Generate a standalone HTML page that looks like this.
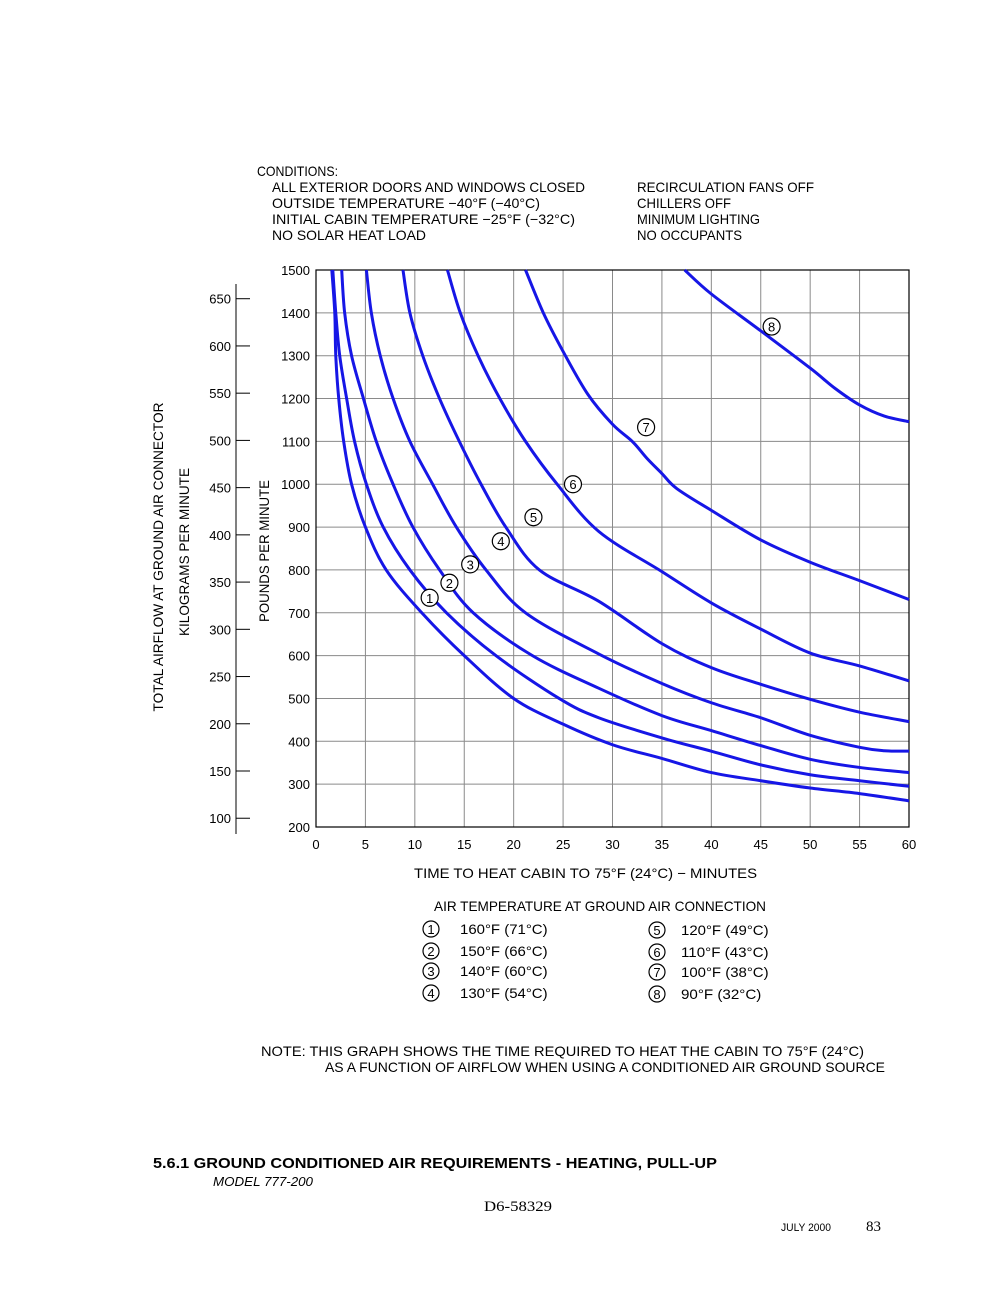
<!DOCTYPE html>
<html><head><meta charset="utf-8"><style>
html,body{margin:0;padding:0;background:#fff}
svg{display:block}
text{font-family:"Liberation Sans",sans-serif;fill:#000}
</style></head><body>
<svg id="page" width="1000" height="1294" viewBox="0 0 1000 1294" xmlns="http://www.w3.org/2000/svg">
<g font-size="14">
<text x="257" y="176" textLength="81" lengthAdjust="spacingAndGlyphs">CONDITIONS:</text>
<text x="272" y="192" textLength="313" lengthAdjust="spacingAndGlyphs">ALL EXTERIOR DOORS AND WINDOWS CLOSED</text>
<text x="272" y="208" textLength="268" lengthAdjust="spacingAndGlyphs">OUTSIDE TEMPERATURE −40°F (−40°C)</text>
<text x="272" y="224" textLength="303" lengthAdjust="spacingAndGlyphs">INITIAL CABIN TEMPERATURE −25°F (−32°C)</text>
<text x="272" y="240" textLength="154" lengthAdjust="spacingAndGlyphs">NO SOLAR HEAT LOAD</text>
<text x="637" y="192" textLength="177" lengthAdjust="spacingAndGlyphs">RECIRCULATION FANS OFF</text>
<text x="637" y="208" textLength="94" lengthAdjust="spacingAndGlyphs">CHILLERS OFF</text>
<text x="637" y="224" textLength="123" lengthAdjust="spacingAndGlyphs">MINIMUM LIGHTING</text>
<text x="637" y="240" textLength="105" lengthAdjust="spacingAndGlyphs">NO OCCUPANTS</text>
</g>
<g id="grid"></g>
<g id="axes"></g>
<g id="curves"></g>
<g id="labels"></g>
<text font-size="14" transform="translate(163,557) rotate(-90)" text-anchor="middle" textLength="309" lengthAdjust="spacingAndGlyphs">TOTAL AIRFLOW AT GROUND AIR CONNECTOR</text>
<text font-size="14" transform="translate(189,552) rotate(-90)" text-anchor="middle" textLength="168" lengthAdjust="spacingAndGlyphs">KILOGRAMS PER MINUTE</text>
<text font-size="14" transform="translate(269,551) rotate(-90)" text-anchor="middle" textLength="142" lengthAdjust="spacingAndGlyphs">POUNDS PER MINUTE</text>
<text font-size="14" x="414" y="878" textLength="343" lengthAdjust="spacingAndGlyphs">TIME TO HEAT CABIN TO 75°F (24°C) − MINUTES</text>
<g font-size="14">
<text x="434" y="911" textLength="332" lengthAdjust="spacingAndGlyphs">AIR TEMPERATURE AT GROUND AIR CONNECTION</text>
<g id="legend-entries"></g>
</g>
<g font-size="14">
<text x="261" y="1056" textLength="603" lengthAdjust="spacingAndGlyphs">NOTE:   THIS GRAPH SHOWS THE TIME REQUIRED TO HEAT THE CABIN TO 75°F (24°C)</text>
<text x="325" y="1072" textLength="560" lengthAdjust="spacingAndGlyphs">AS A FUNCTION OF AIRFLOW WHEN USING A CONDITIONED AIR GROUND SOURCE</text>
</g>
<text x="153" y="1168" font-size="15" font-weight="bold" textLength="564" lengthAdjust="spacingAndGlyphs">5.6.1    GROUND CONDITIONED AIR REQUIREMENTS - HEATING, PULL-UP</text>
<text x="213" y="1186" font-size="13" font-style="italic" textLength="100" lengthAdjust="spacingAndGlyphs">MODEL 777-200</text>
<text x="484" y="1211" font-size="15" style="font-family:'Liberation Serif',serif" textLength="68" lengthAdjust="spacingAndGlyphs">D6-58329</text>
<text x="781" y="1231" font-size="11" textLength="50" lengthAdjust="spacingAndGlyphs">JULY 2000</text>
<text x="866" y="1231" font-size="15" style="font-family:'Liberation Serif',serif">83</text>
</svg>
<script>
const xTicks=[0,5,10,15,20,25,30,35,40,45,50,55,60];
const yTicks=[200,300,400,500,600,700,800,900,1000,1100,1200,1300,1400,1500];
const kgTicks=[100,150,200,250,300,350,400,450,500,550,600,650];
const curveNames=["1","2","3","4","5","6","7","8"];
const c1=[[1.6,1500],[1.9,1400],[2.0,1300],[2.3,1200],[2.8,1100],[3.6,1000],[5.0,900],[7.1,800],[10.7,700],[15,600],[20,500],[25,440],[30,392],[35,360],[40,327],[45,308],[50,291],[55,278],[60,261]];
const c2=[[1.7,1500],[2.0,1400],[2.4,1300],[3.1,1200],[3.9,1100],[5.1,1000],[6.8,900],[9.5,800],[13.2,700],[18.2,600],[24.6,500],[28.6,455],[35,408],[40,377],[45,345],[50,322],[55,308],[60,295]];
const c3=[[2.6,1500],[2.9,1400],[3.6,1300],[4.8,1200],[6.1,1100],[7.8,1000],[9.8,900],[12.5,800],[15.9,700],[21.9,600],[28.6,524],[35,460],[40,425],[45,390],[50,358],[55,339],[60,327]];
const c4=[[5.1,1500],[5.6,1400],[6.5,1300],[7.8,1200],[9.5,1100],[11.8,1000],[14.2,900],[17.2,800],[21.2,700],[28.6,604],[35,535],[40,490],[45,455],[50,414],[55,386],[57.5,378],[60,377]];
const c5=[[8.8,1500],[9.5,1400],[10.8,1300],[12.5,1200],[14.5,1100],[16.7,1000],[19.2,900],[22.6,800],[28.6,727],[35,628],[40,572],[45,533],[50,498],[55,468],[60,446]];
const c6=[[13.3,1500],[14.6,1400],[16.4,1300],[18.6,1200],[21.2,1100],[24.4,1000],[28.6,890],[35,796],[40,723],[45,662],[50,606],[55,576],[60,541]];
const c7=[[21.2,1500],[23,1400],[25,1310],[27.5,1210],[30,1140],[32,1100],[33.5,1060],[35,1025],[36.5,990],[40,939],[45,870],[50,818],[55,775],[60,731]];
const c8=[[37.3,1500],[40,1444],[45,1358],[50,1271],[52.5,1224],[55,1185],[57.5,1159],[60,1146]];
const legendText=["160°F (71°C)","150°F (66°C)","140°F (60°C)","130°F (54°C)","120°F (49°C)","110°F (43°C)","100°F (38°C)","90°F (32°C)"];
const labelPos=[[11.5,735],[13.5,770],[15.6,813],[18.7,867],[22.0,923],[26.0,1000],[33.4,1133],[46.1,1368]];

const X0=316,X1=909,Y0=827,Y1=270;
const xs=t=>X0+(t-0)/(60-0)*(X1-X0);
const ys=v=>Y0-(v-200)/(1500-200)*(Y0-Y1);
const NS="http://www.w3.org/2000/svg";
function mk(tag,parent){const e=document.createElementNS(NS,tag);parent.appendChild(e);return e;}
const grid=document.getElementById('grid'),axes=document.getElementById('axes');
xTicks.forEach(t=>{
 const l=mk('line',grid);
 
 
 l.setAttribute('x1',xs(t));l.setAttribute('x2',xs(t));l.setAttribute('y1',Y1);l.setAttribute('y2',Y0);
 l.setAttribute('stroke','#8a8a8a');l.setAttribute('stroke-width','1');
 const tx=mk('text',axes);
 
 
 tx.setAttribute('x',xs(t));tx.setAttribute('y',849);tx.setAttribute('text-anchor','middle');tx.setAttribute('font-size','13');
 tx.textContent=t;
});
yTicks.forEach(v=>{
 const l=mk('line',grid);
 
 
 l.setAttribute('x1',X0);l.setAttribute('x2',X1);l.setAttribute('y1',ys(v));l.setAttribute('y2',ys(v));
 l.setAttribute('stroke','#8a8a8a');l.setAttribute('stroke-width','1');
 const tx=mk('text',axes);
 
 
 tx.setAttribute('x',310);tx.setAttribute('y',ys(v)+5);tx.setAttribute('text-anchor','end');tx.setAttribute('font-size','13');
 tx.textContent=v;
});
const border=mk('rect',axes);


border.setAttribute('x',X0);border.setAttribute('y',Y1);border.setAttribute('width',X1-X0);border.setAttribute('height',Y0-Y1);
border.setAttribute('fill','none');border.setAttribute('stroke','#000');border.setAttribute('stroke-width','1.2');
const kgAxis=mk('line',axes);


kgAxis.setAttribute('x1',236);kgAxis.setAttribute('x2',236);kgAxis.setAttribute('y1',284);kgAxis.setAttribute('y2',834);kgAxis.setAttribute('stroke','#000');
kgTicks.forEach(k=>{
 const y=ys(k*2.2046);
 const l=mk('line',axes);
 
 
 l.setAttribute('x1',236);l.setAttribute('x2',250);l.setAttribute('y1',y);l.setAttribute('y2',y);l.setAttribute('stroke','#000');
 const tx=mk('text',axes);
 
 
 tx.setAttribute('x',231);tx.setAttribute('y',y+5);tx.setAttribute('text-anchor','end');tx.setAttribute('font-size','13');
 tx.textContent=k;
});
function pathFor(pts){
 const p=pts.map(d=>[xs(d[0]),ys(d[1])]);
 let s='M'+p[0][0]+','+p[0][1];
 for(let i=0;i<p.length-1;i++){
  const a=p[i-1]||p[i],b=p[i],c=p[i+1],d=p[i+2]||c;
  const c1x=b[0]+(c[0]-a[0])/6,c1y=b[1]+(c[1]-a[1])/6,c2x=c[0]-(d[0]-b[0])/6,c2y=c[1]-(d[1]-b[1])/6;
  s+=' C'+c1x+','+c1y+' '+c2x+','+c2y+' '+c[0]+','+c[1];
 }
 return s;
}
const curves=document.getElementById('curves');
[c1,c2,c3,c4,c5,c6,c7,c8].forEach((c,i)=>{
 const p=mk('path',curves);
 
 
 p.setAttribute('d',pathFor(c));p.setAttribute('fill','none');p.setAttribute('stroke','#1616e6');p.setAttribute('stroke-width','3');
});
const labels=document.getElementById('labels');
labelPos.forEach((lp,i)=>{
 const g=mk('g',labels);
 
 
 const ci=mk('circle',g);
 ci.setAttribute('cx',xs(lp[0]));ci.setAttribute('cy',ys(lp[1]));ci.setAttribute('r',8.5);ci.setAttribute('fill','#fff');ci.setAttribute('stroke','#000');ci.setAttribute('stroke-width','1.2');
 const tx=mk('text',g);
 tx.setAttribute('x',xs(lp[0]));tx.setAttribute('y',ys(lp[1])+5);tx.setAttribute('text-anchor','middle');tx.setAttribute('font-size','13');
 tx.textContent=curveNames[i];
});
const le=document.getElementById('legend-entries');
legendText.forEach((t,i)=>{
 const col=i<4?0:1,row=i%4;
 const cx=col?657:431,tx0=col?681:460,y=[929,951,971,993][row]+ (col?1:0);
 const g=mk('g',le);
 
 
 const ci=mk('circle',g);
 ci.setAttribute('cx',cx);ci.setAttribute('cy',y);ci.setAttribute('r',8);ci.setAttribute('fill','none');ci.setAttribute('stroke','#000');ci.setAttribute('stroke-width','1.2');
 const n=mk('text',g);
 n.setAttribute('x',cx);n.setAttribute('y',y+5);n.setAttribute('text-anchor','middle');n.setAttribute('font-size','13');
 n.textContent=curveNames[i];
 const l=mk('text',g);
 l.setAttribute('x',tx0);l.setAttribute('y',y+5);l.setAttribute('font-size','14');l.setAttribute('textLength',t.length*7.3);l.setAttribute('lengthAdjust','spacingAndGlyphs');
 l.textContent=t;
});
</script>
</body></html>
